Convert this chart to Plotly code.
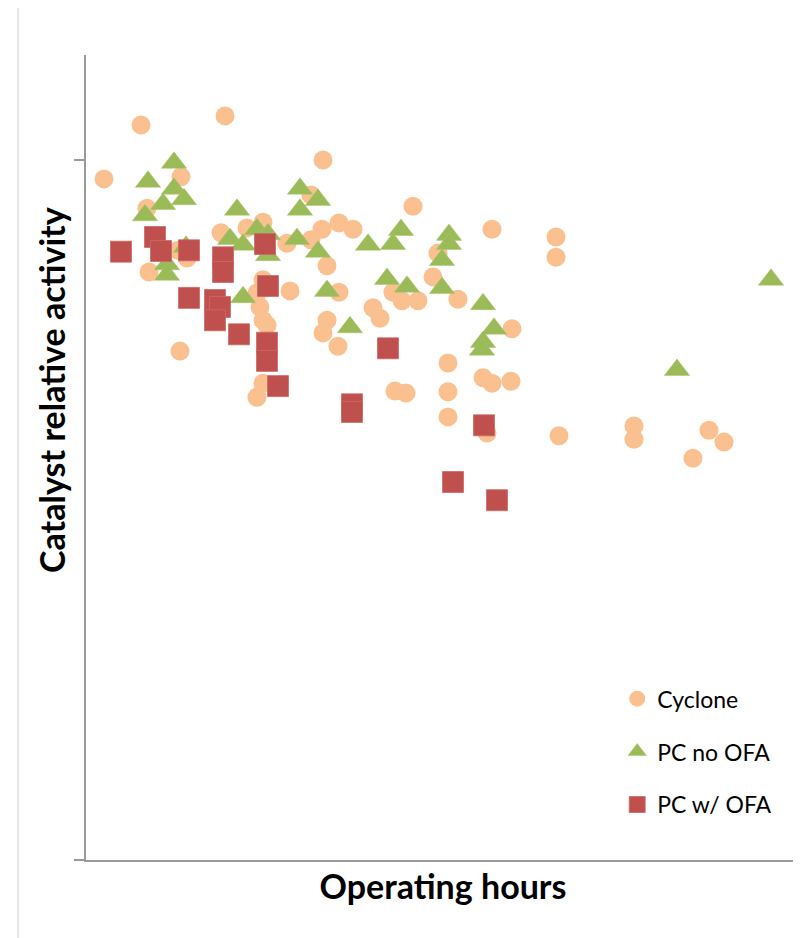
import plotly.graph_objects as go

# Operating hours / relative activity
cyclone_hours = [900, 2750, 6950, 4750, 3050, 3150, 5050, 4600, 4700,
                 6750, 8050, 8850, 10050, 11250, 11800, 12650, 13350, 11250, 11850, 16350,
                 8850, 8550, 8700, 8850, 9050, 10200, 8850, 8550,
                 12050, 12650, 12050, 11850, 12600, 14350, 14700, 15350, 15800, 16600, 18600, 17600, 17350,
                 20300, 21300, 18100, 18100, 18100, 15450, 16000, 19850, 20300, 21250, 20050,
                 23500, 23500, 23650, 27400, 27400, 31150, 31900, 30350]
cyclone_activity = [0.973, 1.050, 1.063, 0.976, 0.931, 0.840, 0.860, 0.871, 0.727,
                    0.896, 0.903, 0.911, 0.881, 0.886, 0.901, 0.910, 0.901, 0.950, 1.000, 0.934,
                    0.829, 0.810, 0.790, 0.771, 0.764, 0.813, 0.681, 0.661,
                    0.849, 0.811, 0.771, 0.753, 0.734, 0.789, 0.774, 0.811, 0.799, 0.799, 0.801, 0.867, 0.833,
                    0.901, 0.759, 0.710, 0.669, 0.633, 0.670, 0.667, 0.689, 0.681, 0.684, 0.610,
                    0.890, 0.861, 0.606, 0.620, 0.601, 0.614, 0.597, 0.574]

pc_no_ofa_hours = [4400, 3100, 4400, 4900, 3850, 2950, 7550, 5000, 4050, 4050,
                   7200, 7850, 8550, 9100, 9100, 10700, 10700, 11600, 10550, 11600,
                   7850, 12050, 13200, 14100, 15350, 15750, 18150, 18150, 17800,
                   15050, 16050, 17800, 19850, 20400, 19850, 19800, 34250, 29550]
pc_no_ofa_activity = [0.996, 0.969, 0.959, 0.944, 0.937, 0.921, 0.929, 0.876, 0.851, 0.836,
                      0.887, 0.879, 0.901, 0.894, 0.864, 0.959, 0.929, 0.943, 0.887, 0.869,
                      0.804, 0.813, 0.761, 0.879, 0.880, 0.900, 0.893, 0.880, 0.857,
                      0.830, 0.819, 0.817, 0.794, 0.759, 0.740, 0.729, 0.829, 0.700]

pc_ofa_hours = [1750, 3450, 3750, 5150, 6850, 6850, 8950, 9100, 5150, 6450, 6700,
                6450, 7650, 9050, 9050, 9600, 15100, 13300, 13300, 19900, 18350, 20550]
pc_ofa_activity = [0.869, 0.890, 0.870, 0.871, 0.861, 0.840, 0.880, 0.820, 0.803, 0.800, 0.790,
                   0.771, 0.751, 0.739, 0.713, 0.677, 0.731, 0.651, 0.640, 0.621, 0.540, 0.514]

font_name = "Lato"
axis_grey = "#9A9A9A"

fig = go.Figure()

fig.add_trace(go.Scatter(
    x=cyclone_hours, y=cyclone_activity, mode="markers", name="Cyclone",
    legendgroup="a",
    marker=dict(symbol="circle", size=19, color="#FAC090", line=dict(width=0))
))
fig.add_trace(go.Scatter(
    x=pc_no_ofa_hours, y=pc_no_ofa_activity, mode="markers", name="PC no OFA",
    legendgroup="b",
    marker=dict(symbol="triangle-up", size=22, color="#9BBB59", line=dict(width=0.5, color="#A8C46C"))
))
fig.add_trace(go.Scatter(
    x=pc_ofa_hours, y=pc_ofa_activity, mode="markers", name="PC w/ OFA",
    legendgroup="c",
    marker=dict(symbol="square", size=21, color="#C0504D", line=dict(width=0.8, color="#CB6A67"))
))

# thin frame line on the far left of the original picture
fig.add_shape(type="line", xref="paper", yref="paper",
              x0=-0.0952, x1=-0.0952, y0=1.0596, y1=-0.12,
              line=dict(color="#CFCFCF", width=1))

# y title sits above the middle of the axis in the original, so use an annotation
fig.add_annotation(
    text="<b>Catalyst relative activity</b>",
    xref="paper", yref="paper", x=-0.0476, y=0.584,
    xanchor="center", yanchor="middle", textangle=-90,
    showarrow=False,
    font=dict(family=font_name, size=34, color="#000000")
)

# page body has an 8px margin, so the figure is a bit smaller than the window
fig.update_layout(
    width=793, height=930,
    margin=dict(l=78, r=1, t=47, b=78),
    paper_bgcolor="white",
    plot_bgcolor="white",
    font=dict(family=font_name, color="#000000"),
    showlegend=True,
    legend=dict(
        x=0.744, y=0.227, xanchor="left", yanchor="top",
        font=dict(family=font_name, size=23, color="#000000"),
        bgcolor="rgba(0,0,0,0)",
        tracegroupgap=20,
        traceorder="grouped"
    ),
    xaxis=dict(
        range=[0, 35700],
        showgrid=False, zeroline=False,
        showline=True, linecolor=axis_grey, linewidth=1.5,
        ticks="", showticklabels=False,
        title=dict(text="<b>Operating hours</b>", standoff=14,
                   font=dict(family=font_name, size=34, color="#000000"))
    ),
    yaxis=dict(
        range=[0, 1.15],
        showgrid=False, zeroline=False,
        showline=True, linecolor=axis_grey, linewidth=1.5,
        ticks="outside", ticklen=10, tickcolor=axis_grey, tickwidth=1.5,
        tickvals=[0, 1], showticklabels=False
    )
)

fig.write_html("out.html")
